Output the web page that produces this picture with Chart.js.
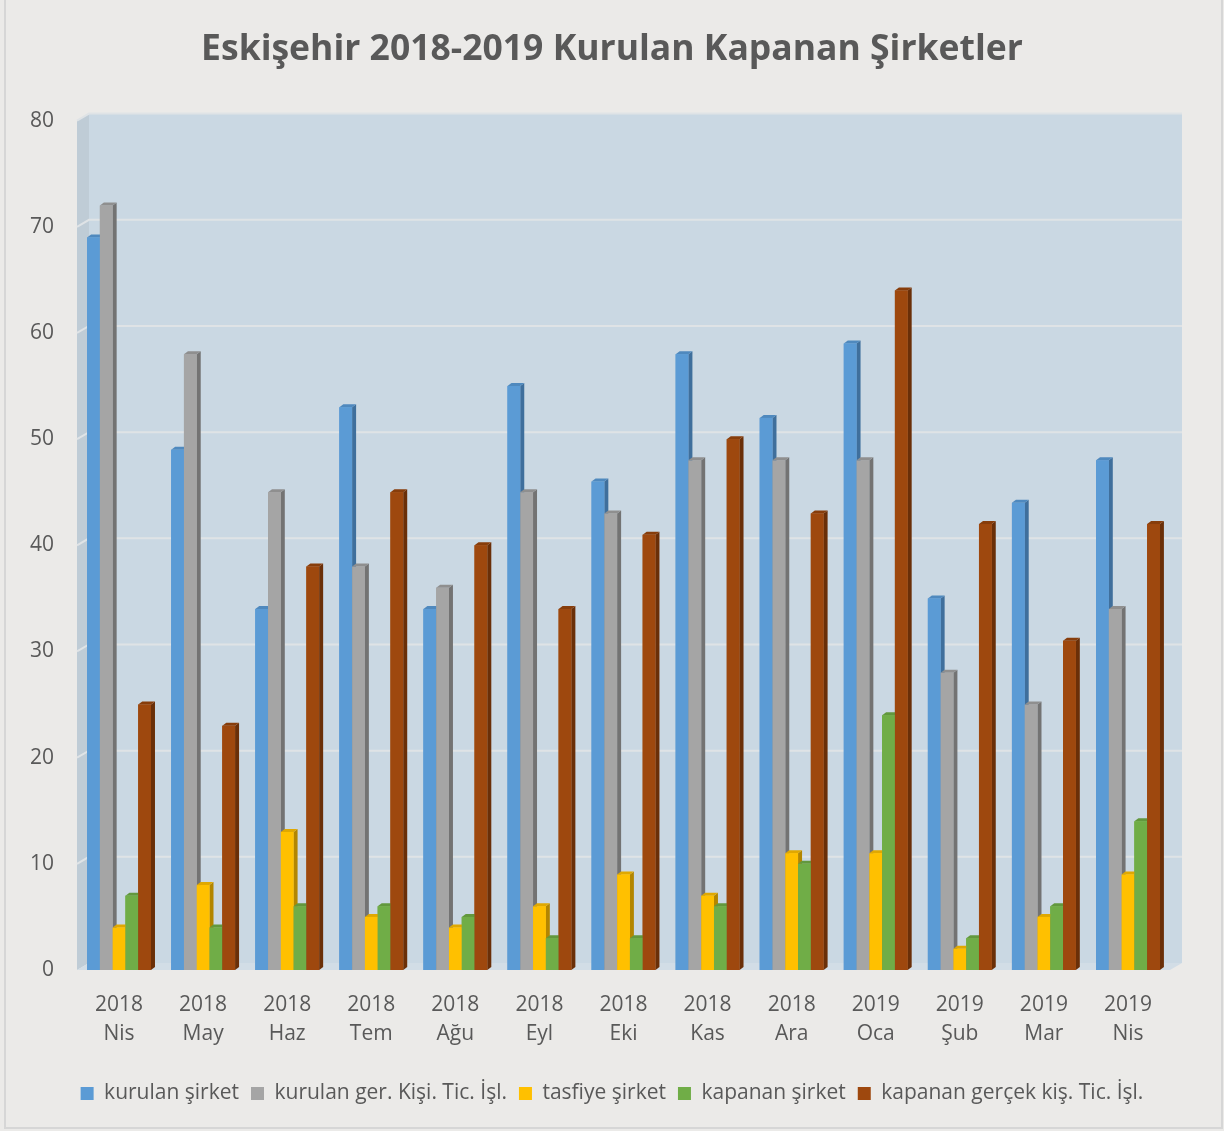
<!DOCTYPE html>
<html>
<head>
<meta charset="utf-8">
<script src="https://cdn.jsdelivr.net/npm/chart.js@4/dist/chart.umd.min.js"></script>
<style>
  html, body { margin: 0; padding: 0; background: #ebeae8; }
  #frame { position: absolute; left: 4px; top: -2px; width: 1215px; height: 1127px; border: 2px solid #d6d6d6; }
  #wrap { position: absolute; left: 0; top: 0; width: 1224px; height: 1131px; }
</style>
</head>
<body>
<div id="frame"></div>
<div id="wrap"><canvas id="c"></canvas></div>
<script>
const categories = [
  ['2018','Nis'], ['2018','May'], ['2018','Haz'], ['2018','Tem'], ['2018','Ağu'],
  ['2018','Eyl'], ['2018','Eki'], ['2018','Kas'], ['2018','Ara'], ['2019','Oca'],
  ['2019','Şub'], ['2019','Mar'], ['2019','Nis']
];
const seriesNames = ['kurulan şirket', 'kurulan ger. Kişi. Tic. İşl.', 'tasfiye şirket', 'kapanan şirket', 'kapanan gerçek kiş. Tic. İşl.'];
const kurulanSirket   = [69, 49, 34, 53, 34, 55, 46, 58, 52, 59, 35, 44, 48];
const kurulanGercek   = [72, 58, 45, 38, 36, 45, 43, 48, 48, 48, 28, 25, 34];
const tasfiyeSirket   = [4, 8, 13, 5, 4, 6, 9, 7, 11, 11, 2, 5, 9];
const kapananSirket   = [7, 4, 6, 6, 5, 3, 3, 6, 10, 24, 3, 6, 14];
const kapananGercek   = [25, 23, 38, 45, 40, 34, 41, 50, 43, 64, 42, 31, 42];
const yTicks = [0, 10, 20, 30, 40, 50, 60, 70, 80];

const fronts = ['#5b9bd5', '#a5a5a5', '#ffc000', '#70ad47', '#9e480e'];
const sides  = ['#3f6f9c', '#737373', '#b38600', '#4e7a31', '#6a2f08'];
const tops   = ['#4f89be', '#8f8f8f', '#e0a800', '#62983d', '#873d0b'];

const WALL_DX = 12, WALL_DY = -7, BAR_DX = 4, BAR_DY = -3;

const wallPlugin = {
  id: 'wall',
  beforeDatasetsDraw(chart) {
    const ctx = chart.ctx, a = chart.chartArea, ys = chart.scales.y;
    const L = a.left, R = a.right, T = a.top, B = a.bottom;
    ctx.save();
    ctx.fillStyle = '#cad8e3';
    ctx.fillRect(L + WALL_DX, T + WALL_DY, R - L, B - T);
    ctx.fillStyle = '#bfccd6';
    ctx.beginPath();
    ctx.moveTo(L, T); ctx.lineTo(L + WALL_DX, T + WALL_DY);
    ctx.lineTo(L + WALL_DX, B + WALL_DY); ctx.lineTo(L, B); ctx.closePath(); ctx.fill();
    ctx.fillStyle = '#d2dde6';
    ctx.beginPath();
    ctx.moveTo(L, B); ctx.lineTo(L + WALL_DX, B + WALL_DY);
    ctx.lineTo(R + WALL_DX, B + WALL_DY); ctx.lineTo(R, B); ctx.closePath(); ctx.fill();
    ctx.strokeStyle = '#dfe3e6';
    ctx.lineWidth = 2;
    yTicks.forEach(v => {
      if (v === 0) return;
      const y = ys.getPixelForValue(v);
      ctx.beginPath();
      ctx.moveTo(L, y); ctx.lineTo(L + WALL_DX, y + WALL_DY); ctx.lineTo(R + WALL_DX, y + WALL_DY);
      ctx.stroke();
    });
    ctx.restore();
  },
  afterDatasetsDraw(chart) {
    const ctx = chart.ctx;
    ctx.save();
    const n = chart.data.labels.length;
    for (let i = 0; i < n; i++) {
      for (let d = 0; d < chart.data.datasets.length; d++) {
        const bar = chart.getDatasetMeta(d).data[i];
        if (!bar) continue;
        const p = bar.getProps(['x', 'y', 'base', 'width'], true);
        const l = p.x - p.width / 2, r = p.x + p.width / 2, t = p.y, b = p.base;
        ctx.fillStyle = sides[d];
        ctx.beginPath();
        ctx.moveTo(r, t); ctx.lineTo(r + BAR_DX, t + BAR_DY); ctx.lineTo(r + BAR_DX, b + BAR_DY); ctx.lineTo(r, b);
        ctx.closePath(); ctx.fill();
        ctx.fillStyle = tops[d];
        ctx.beginPath();
        ctx.moveTo(l, t); ctx.lineTo(l + BAR_DX, t + BAR_DY); ctx.lineTo(r + BAR_DX, t + BAR_DY); ctx.lineTo(r, t);
        ctx.closePath(); ctx.fill();
        ctx.fillStyle = fronts[d];
        ctx.fillRect(l, t, r - l, b - t);
      }
    }
    ctx.restore();
  }
};

const seriesData = [kurulanSirket, kurulanGercek, tasfiyeSirket, kapananSirket, kapananGercek];

new Chart(document.getElementById('c'), {
  type: 'bar',
  data: {
    labels: categories,
    datasets: seriesNames.map((name, k) => ({
      label: name,
      data: seriesData[k],
      backgroundColor: fronts[k],
      borderWidth: 0,
      barPercentage: 1,
      categoryPercentage: 0.76
    }))
  },
  options: {
    responsive: true,
    maintainAspectRatio: false,
    animation: false,
    layout: { padding: { top: 29, right: 0, bottom: 17, left: 0 } },
    plugins: {
      title: {
        display: true,
        text: 'Eskişehir 2018-2019 Kurulan Kapanan Şirketler',
        color: '#595959',
        font: { family: 'Open Sans', size: 35.5, weight: 'bold', lineHeight: 1.2 },
        padding: { top: 0, bottom: 49 }
      },
      legend: {
        position: 'bottom',
        labels: {
          color: '#595959',
          font: { family: 'Open Sans', size: 21 },
          boxWidth: 13,
          boxHeight: 13,
          padding: 12
        }
      },
      tooltip: { enabled: false }
    },
    scales: {
      x: {
        grid: { display: false, drawTicks: false },
        border: { display: false },
        ticks: {
          color: '#595959',
          font: { family: 'Open Sans', size: 21, lineHeight: 1.4 },
          padding: 20,
          maxRotation: 0,
          autoSkip: false
        },
        afterFit(scale) { scale.height = 101; }
      },
      y: {
        min: 0,
        max: 80,
        grid: { display: false, drawTicks: false },
        border: { display: false },
        ticks: {
          stepSize: 10,
          color: '#595959',
          font: { family: 'Open Sans', size: 21 },
          padding: 23
        },
        afterFit(scale) { scale.width = 77; }
      },
      yRight: {
        position: 'right',
        display: true,
        grid: { display: false, drawTicks: false },
        border: { display: false },
        ticks: { display: false },
        afterFit(scale) { scale.width = 54; }
      }
    }
  },
  plugins: [wallPlugin]
});
</script>
</body>
</html>
